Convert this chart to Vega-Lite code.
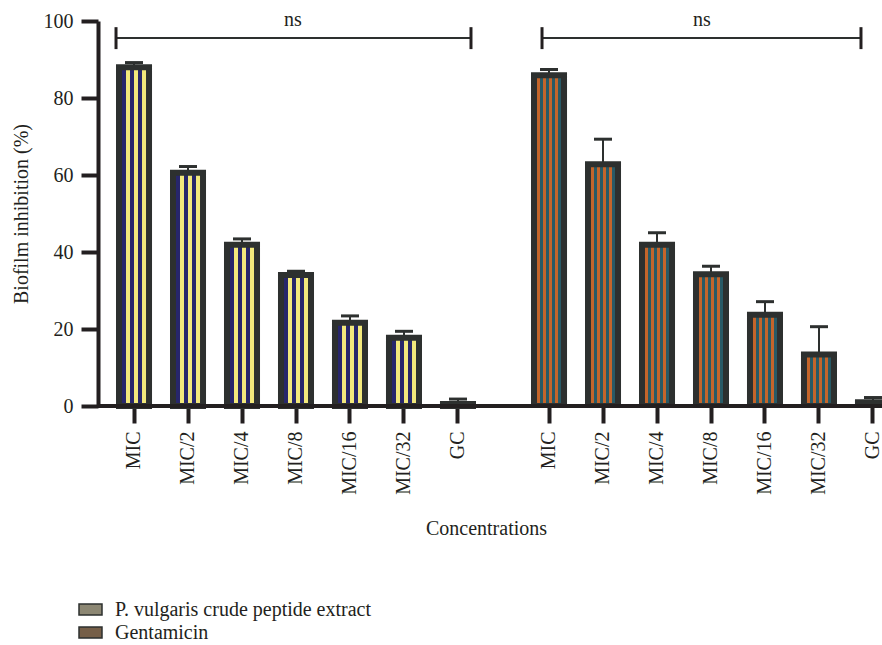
{
  "$schema": "https://vega.github.io/schema/vega-lite/v6.json",
  "padding": {"left": 11, "top": 10, "right": 0, "bottom": 0},
  "background": "white",
  "config": {
    "view": {"stroke": null},
    "font": "Liberation Serif",
    "axis": {"labelFont": "Liberation Serif", "titleFont": "Liberation Serif", "labelColor": "#231f20", "titleColor": "#231f20", "titleFontWeight": "normal", "grid": false},
    "legend": {"labelFont": "Liberation Serif"}
  },
  "datasets": {
    "pv": [
      {"group": "P. vulgaris crude peptide extract", "conc": "MIC", "value": 88.0, "upper": 89.2},
      {"group": "P. vulgaris crude peptide extract", "conc": "MIC/2", "value": 60.6, "upper": 62.2},
      {"group": "P. vulgaris crude peptide extract", "conc": "MIC/4", "value": 41.9, "upper": 43.4},
      {"group": "P. vulgaris crude peptide extract", "conc": "MIC/8", "value": 34.0, "upper": 35.0},
      {"group": "P. vulgaris crude peptide extract", "conc": "MIC/16", "value": 21.6, "upper": 23.4},
      {"group": "P. vulgaris crude peptide extract", "conc": "MIC/32", "value": 17.7, "upper": 19.4},
      {"group": "P. vulgaris crude peptide extract", "conc": "GC", "value": 0.5, "upper": 1.8}
    ],
    "gen": [
      {"group": "Gentamicin", "conc": "MIC", "value": 85.9, "upper": 87.4},
      {"group": "Gentamicin", "conc": "MIC/2", "value": 62.8, "upper": 69.3},
      {"group": "Gentamicin", "conc": "MIC/4", "value": 41.9, "upper": 45.0},
      {"group": "Gentamicin", "conc": "MIC/8", "value": 34.2, "upper": 36.3},
      {"group": "Gentamicin", "conc": "MIC/16", "value": 23.7, "upper": 27.1},
      {"group": "Gentamicin", "conc": "MIC/32", "value": 13.4, "upper": 20.6},
      {"group": "Gentamicin", "conc": "GC", "value": 1.0, "upper": 2.2}
    ]
  },
  "spacing": 0,
  "bounds": "flush",
  "hconcat": [
    {
      "width": 396,
      "height": 385,
      "resolve": {"axis": {"x": "independent", "y": "independent"}},
      "layer": [
        {
          "data": {"name": "pv"},
          "mark": {"type": "rule", "color": "#2d302f", "strokeWidth": 2},
          "encoding": {
            "x": {
              "field": "conc", "type": "nominal", "sort": ["MIC", "MIC/2", "MIC/4", "MIC/8", "MIC/16", "MIC/32", "GC"],
              "scale": {"domain": ["MIC", "MIC/2", "MIC/4", "MIC/8", "MIC/16", "MIC/32", "GC"], "paddingInner": 0.444, "paddingOuter": 0.389},
              "axis": {
                "title": "Concentrations", "titleFontSize": 20, "titleX": 388, "titleY": 122, "titleBaseline": "middle", "titleAlign": "center",
                "domain": false, "ticks": true, "tickSize": 17, "tickWidth": 4, "tickColor": "#231f20",
                "labelAngle": -90, "labelFontSize": 20, "labelPadding": 8
              }
            },
            "y": {
              "field": "value", "type": "quantitative", "scale": {"domain": [0, 100]},
              "axis": {
                "title": "Biofilm inhibition (%)", "titleFontSize": 20, "titlePadding": 12,
                "values": [0, 20, 40, 60, 80, 100],
                "domainWidth": 4, "domainColor": "#231f20",
                "tickSize": 17, "tickWidth": 4, "tickColor": "#231f20",
                "labelFontSize": 20, "labelPadding": 8
              }
            },
            "y2": {"field": "upper"}
          }
        },
        {
          "data": {"name": "pv"},
          "mark": {"type": "tick", "color": "#2d302f", "opacity": 1, "thickness": 3, "size": 18},
          "encoding": {
            "x": {"field": "conc", "type": "nominal", "sort": ["MIC", "MIC/2", "MIC/4", "MIC/8", "MIC/16", "MIC/32", "GC"], "axis": null},
            "y": {"field": "upper", "type": "quantitative", "axis": null}
          }
        },
        {
          "data": {"name": "pv"},
          "mark": {"type": "bar", "stroke": "#2d302f", "strokeWidth": 6},
          "encoding": {
            "x": {"field": "conc", "type": "nominal", "sort": ["MIC", "MIC/2", "MIC/4", "MIC/8", "MIC/16", "MIC/32", "GC"], "axis": null},
            "y": {"field": "value", "type": "quantitative", "axis": null},
            "fill": {"value": {"gradient": "linear", "x1": 0, "y1": 0, "x2": 1, "y2": 0, "stops": [
                    {"offset": 0, "color": "#27266b"}, {"offset": 0.233, "color": "#27266b"},
                    {"offset": 0.233, "color": "#f2e87c"}, {"offset": 0.367, "color": "#f2e87c"},
                    {"offset": 0.367, "color": "#27266b"}, {"offset": 0.5, "color": "#27266b"},
                    {"offset": 0.5, "color": "#f2e87c"}, {"offset": 0.633, "color": "#f2e87c"},
                    {"offset": 0.633, "color": "#27266b"}, {"offset": 0.767, "color": "#27266b"},
                    {"offset": 0.767, "color": "#f2e87c"}, {"offset": 1, "color": "#f2e87c"}
                  ]}}
          }
        },
        {
          "data": {"name": "pv"},
          "transform": [{"filter": "false"}],
          "mark": {"type": "square"},
          "encoding": {
            "fill": {
              "field": "group", "type": "nominal",
              "scale": {"domain": ["P. vulgaris crude peptide extract", "Gentamicin"], "range": ["#8c8773", "#765f48"]},
              "legend": {
                "orient": "none", "legendX": -20, "legendY": 576, "title": null, "padding": 0,
                "symbolType": "M-1,-0.48H1V0.48H-1Z", "symbolSize": 529,
                "symbolStrokeColor": "#2d302f", "symbolStrokeWidth": 1.5, "symbolOpacity": 1,
                "labelFontSize": 20, "labelColor": "#231f20", "labelOffset": 12, "rowPadding": 0,
                "labelLimit": 400
              }
            }
          }
        },
        {
          "data": {"values": [{}]},
          "mark": {"type": "rule", "color": "#231f20", "strokeWidth": 4},
          "encoding": {"y": {"datum": 0, "type": "quantitative", "axis": null}}
        },
        {
          "data": {"values": [{}]},
          "mark": {"type": "rule", "color": "#2d302f", "strokeWidth": 2, "xOffset": -18, "x2Offset": 13},
          "encoding": {
            "x": {"datum": "MIC", "type": "nominal", "axis": null},
            "x2": {"datum": "GC"},
            "y": {"datum": 95.6, "type": "quantitative", "axis": null}
          }
        },
        {
          "data": {"values": [{}]},
          "mark": {"type": "rule", "color": "#231f20", "strokeWidth": 3, "xOffset": -18},
          "encoding": {
            "x": {"datum": "MIC", "type": "nominal", "axis": null},
            "y": {"datum": 92.7, "type": "quantitative", "axis": null},
            "y2": {"datum": 98.4}
          }
        },
        {
          "data": {"values": [{}]},
          "mark": {"type": "rule", "color": "#231f20", "strokeWidth": 3, "xOffset": 13},
          "encoding": {
            "x": {"datum": "GC", "type": "nominal", "axis": null},
            "y": {"datum": 92.7, "type": "quantitative", "axis": null},
            "y2": {"datum": 98.4}
          }
        },
        {
          "data": {"values": [{"label": "ns"}]},
          "mark": {"type": "text", "fontSize": 20, "color": "#231f20", "baseline": "alphabetic", "xOffset": -3},
          "encoding": {
            "x": {"datum": "MIC/8", "type": "nominal", "axis": null},
            "y": {"datum": 98.6, "type": "quantitative", "axis": null},
            "text": {"field": "label"}
          }
        }
      ]
    },
    {
      "width": 389,
      "height": 385,
      "resolve": {"axis": {"x": "independent", "y": "independent"}},
      "layer": [
        {
          "data": {"name": "gen"},
          "mark": {"type": "rule", "color": "#2d302f", "strokeWidth": 2},
          "encoding": {
            "x": {
              "field": "conc", "type": "nominal", "sort": ["MIC", "MIC/2", "MIC/4", "MIC/8", "MIC/16", "MIC/32", "GC"],
              "scale": {"domain": ["MIC", "MIC/2", "MIC/4", "MIC/8", "MIC/16", "MIC/32", "GC"], "range": [0, 434], "paddingInner": 0.444, "paddingOuter": 0.741},
              "axis": {
                "title": null,
                "domain": false, "ticks": true, "tickSize": 17, "tickWidth": 4, "tickColor": "#231f20",
                "labelAngle": -90, "labelFontSize": 20, "labelPadding": 8
              }
            },
            "y": {"field": "value", "type": "quantitative", "scale": {"domain": [0, 100]}, "axis": null},
            "y2": {"field": "upper"}
          }
        },
        {
          "data": {"name": "gen"},
          "mark": {"type": "tick", "color": "#2d302f", "opacity": 1, "thickness": 3, "size": 18},
          "encoding": {
            "x": {"field": "conc", "type": "nominal", "sort": ["MIC", "MIC/2", "MIC/4", "MIC/8", "MIC/16", "MIC/32", "GC"], "axis": null},
            "y": {"field": "upper", "type": "quantitative", "axis": null}
          }
        },
        {
          "data": {"name": "gen"},
          "mark": {"type": "bar", "stroke": "#2d302f", "strokeWidth": 6, "clip": true},
          "encoding": {
            "x": {"field": "conc", "type": "nominal", "sort": ["MIC", "MIC/2", "MIC/4", "MIC/8", "MIC/16", "MIC/32", "GC"], "axis": null},
            "y": {"field": "value", "type": "quantitative", "axis": null},
            "fill": {"value": {"gradient": "linear", "x1": 0, "y1": 0, "x2": 1, "y2": 0, "stops": [
                    {"offset": 0, "color": "#c4652b"}, {"offset": 0.2, "color": "#c4652b"},
                    {"offset": 0.2, "color": "#285a66"}, {"offset": 0.3, "color": "#285a66"},
                    {"offset": 0.3, "color": "#c4652b"}, {"offset": 0.4, "color": "#c4652b"},
                    {"offset": 0.4, "color": "#285a66"}, {"offset": 0.5, "color": "#285a66"},
                    {"offset": 0.5, "color": "#c4652b"}, {"offset": 0.6, "color": "#c4652b"},
                    {"offset": 0.6, "color": "#285a66"}, {"offset": 0.7, "color": "#285a66"},
                    {"offset": 0.7, "color": "#c4652b"}, {"offset": 0.8, "color": "#c4652b"},
                    {"offset": 0.8, "color": "#285a66"}, {"offset": 1, "color": "#285a66"}
                  ]}}
          }
        },
        {
          "data": {"values": [{}]},
          "mark": {"type": "rule", "color": "#231f20", "strokeWidth": 4},
          "encoding": {"y": {"datum": 0, "type": "quantitative", "axis": null}}
        },
        {
          "data": {"values": [{}]},
          "mark": {"type": "rule", "color": "#2d302f", "strokeWidth": 2, "xOffset": -7, "x2Offset": -12},
          "encoding": {
            "x": {"datum": "MIC", "type": "nominal", "axis": null},
            "x2": {"datum": "GC"},
            "y": {"datum": 95.6, "type": "quantitative", "axis": null}
          }
        },
        {
          "data": {"values": [{}]},
          "mark": {"type": "rule", "color": "#231f20", "strokeWidth": 3, "xOffset": -7},
          "encoding": {
            "x": {"datum": "MIC", "type": "nominal", "axis": null},
            "y": {"datum": 92.7, "type": "quantitative", "axis": null},
            "y2": {"datum": 98.4}
          }
        },
        {
          "data": {"values": [{}]},
          "mark": {"type": "rule", "color": "#231f20", "strokeWidth": 3, "xOffset": -12},
          "encoding": {
            "x": {"datum": "GC", "type": "nominal", "axis": null},
            "y": {"datum": 92.7, "type": "quantitative", "axis": null},
            "y2": {"datum": 98.4}
          }
        },
        {
          "data": {"values": [{"label": "ns"}]},
          "mark": {"type": "text", "fontSize": 20, "color": "#231f20", "baseline": "alphabetic", "xOffset": -9},
          "encoding": {
            "x": {"datum": "MIC/8", "type": "nominal", "axis": null},
            "y": {"datum": 98.6, "type": "quantitative", "axis": null},
            "text": {"field": "label"}
          }
        }
      ]
    }
  ]
}
